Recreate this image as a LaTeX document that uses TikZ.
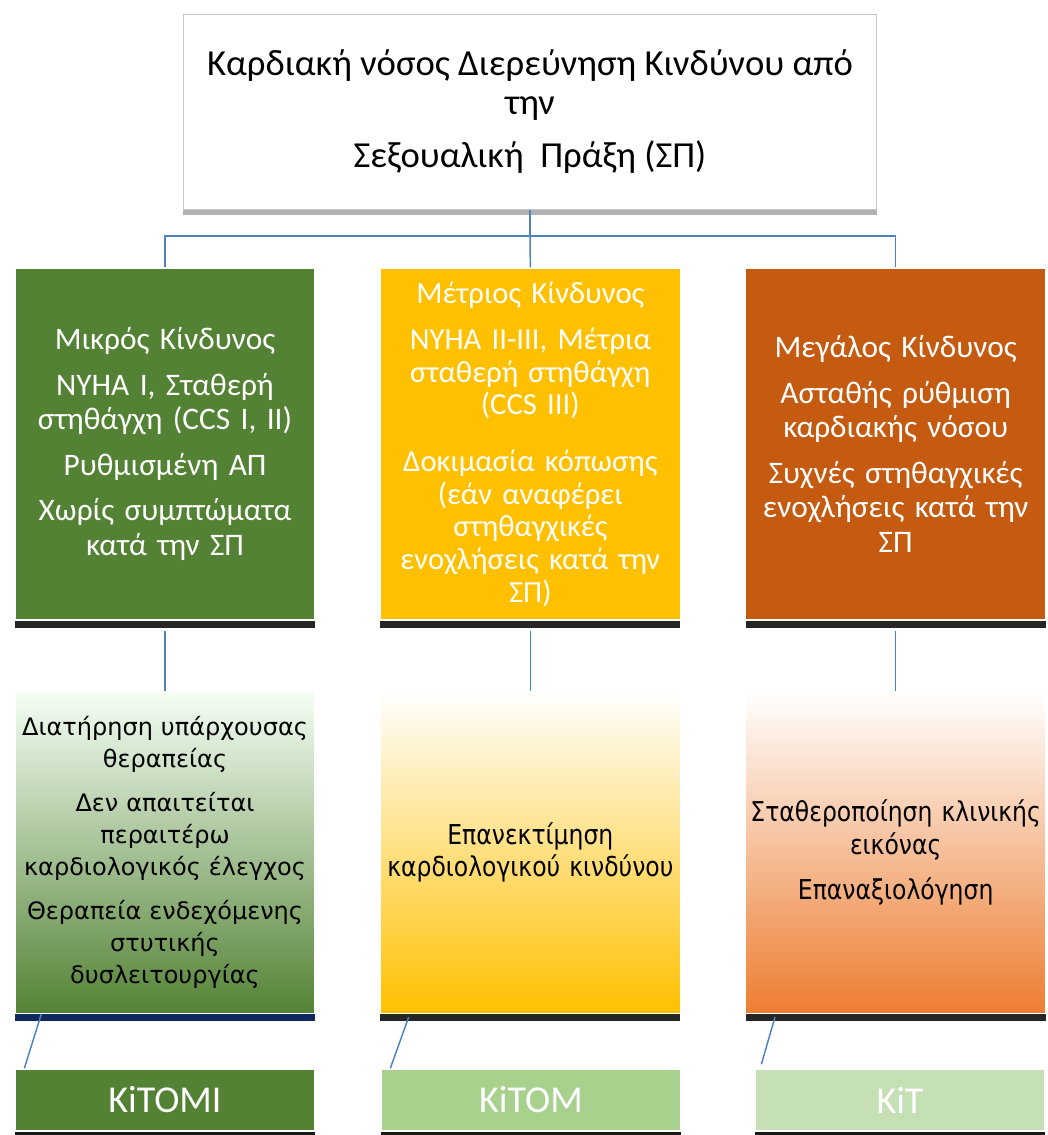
\documentclass[tikz,border=0pt]{standalone}
\usepackage{fontspec}
\setmainfont{Carlito}
\newfontfamily\widefont{DejaVu Sans}
\newfontfamily\narrowfont[FakeStretch=0.86]{DejaVu Sans}
\usepackage{tikz}
\usetikzlibrary{positioning, calc, shadows}

\definecolor{riskgreen}{HTML}{548235}
\definecolor{riskyellow}{HTML}{FFC000}
\definecolor{riskorange}{HTML}{C55A11}
\definecolor{actorange}{HTML}{ED7D31}
\definecolor{codemid}{HTML}{A9D18E}
\definecolor{codelight}{HTML}{C5E0B4}
\definecolor{linkblue}{HTML}{4F81BD}
\definecolor{navyshadow}{HTML}{0B2A66}

\begin{document}
\begin{tikzpicture}[x=0.75pt, y=-0.75pt,
    darkshadow/.style={drop shadow={shadow xshift=0pt, shadow yshift=-6pt, opacity=0.85, fill=#1}},
    titlebox/.style={draw=black!22, line width=1pt, fill=white, align=center,
      minimum width=520pt, minimum height=146pt, inner sep=0pt,
      font=\fontsize{27.5}{29}\selectfont,
      drop shadow={shadow xshift=0pt, shadow yshift=-4pt, opacity=0.3, fill=black}},
    riskbox/.style={draw=white, line width=1pt, align=center, text=white,
      minimum width=225pt, minimum height=264pt, text width=218pt, inner sep=0pt,
      font=\fontsize{23.5}{26}\selectfont, darkshadow=black},
    actbox/.style={draw=white, line width=1pt, align=center, text=black,
      minimum width=225pt, minimum height=241.5pt, text width=222pt, inner sep=0pt,
      darkshadow=black},
    codebox/.style={draw=white, line width=1pt, text=white,
      minimum height=46.5pt, inner sep=0pt, font=\fontsize{28.5}{30}\selectfont,
      drop shadow={shadow xshift=0pt, shadow yshift=-3pt, opacity=0.9, fill=black}},
    link/.style={draw=linkblue, line width=1.1pt}]

  \useasboundingbox (0,0) rectangle (1048,1135);

  % title
  \node[titlebox] (title) at (530,112) {Καρδιακή νόσος Διερεύνηση Κινδύνου από\\ την\\[11pt] Σεξουαλική~ Πράξη (ΣΠ)};

  % risk levels
  \node[riskbox, fill=riskgreen] (low) at (165,444)
    {Μικρός Κίνδυνος\\[8pt] NYHA I, Σταθερή\\ στηθάγχη (CCS I, II)\\[8pt] Ρυθμισμένη ΑΠ\\[8pt] Χωρίς συμπτώματα\\ κατά την ΣΠ};
  \node[riskbox, fill=riskyellow, right=48pt of low, font=\fontsize{23}{24.5}\selectfont] (mid)
    {Μέτριος Κίνδυνος\\[10pt] NYHA II-III, Μέτρια\\ σταθερή στηθάγχη\\ (CCS III)\\[18pt] Δοκιμασία κόπωσης\\ (εάν αναφέρει\\ στηθαγχικές\\ ενοχλήσεις κατά την\\ ΣΠ)};
  \node[riskbox, fill=riskorange, right=48pt of mid] (high)
    {Μεγάλος Κίνδυνος\\[8pt] Ασταθής ρύθμιση\\ καρδιακής νόσου\\[8pt] Συχνές στηθαγχικές\\ ενοχλήσεις κατά την\\ ΣΠ};

  % actions
  \node[actbox, below=52.5pt of low, top color=green!4!white, bottom color=riskgreen,
    font=\widefont\fontsize{18}{24}\selectfont, darkshadow=navyshadow] (lowact)
    {Διατήρηση υπάρχουσας\\ θεραπείας\\[9pt] Δεν απαιτείται\\ περαιτέρω\\ καρδιολογικός έλεγχος\\[9pt] Θεραπεία ενδεχόμενης\\ στυτικής\\ δυσλειτουργίας};
  \node[actbox, below=52.5pt of mid, top color=white, bottom color=riskyellow,
    font=\narrowfont\fontsize{20.5}{23.5}\selectfont] (midact)
    {Επανεκτίμηση\\ καρδιολογικού κινδύνου};
  \node[actbox, below=52.5pt of high, top color=white, bottom color=actorange,
    font=\narrowfont\fontsize{20.5}{25}\selectfont] (highact)
    {Σταθεροποίηση κλινικής\\ εικόνας\\[9pt] Επαναξιολόγηση};

  % codes
  \node[codebox, fill=riskgreen, minimum width=225pt] (lowcode) at (165,1100) {KiTOMI};
  \node[codebox, fill=codemid, minimum width=225pt] (midcode) at (531,1100) {KiTOM};
  \node[codebox, fill=codelight, minimum width=217.5pt] (highcode) at (900,1100) {KiT};

  % connectors
  \coordinate (hub) at ($(title.south)+(0,26)$);
  \draw[link] (title.south) -- (hub);
  \draw[link] (hub) -| (low.north);
  \draw[link] (hub) -- (mid.north);
  \draw[link] (hub) -| (high.north);
  \draw[link, shorten <=8pt] (low.south) -- (lowact.north);
  \draw[link, shorten <=8pt] (mid.south) -- (midact.north);
  \draw[link, shorten <=8pt] (high.south) -- (highact.north);
  \draw[link] ($(lowact.south west)+(27,0)$) -- ($(lowcode.north west)+(10,0)$);
  \draw[link] ($(midact.south west)+(29,3)$) -- ($(midcode.north west)+(10,0)$);
  \draw[link] ($(highact.south west)+(30,3)$) -- ($(highcode.north west)+(7,-4)$);
\end{tikzpicture}
\end{document}
